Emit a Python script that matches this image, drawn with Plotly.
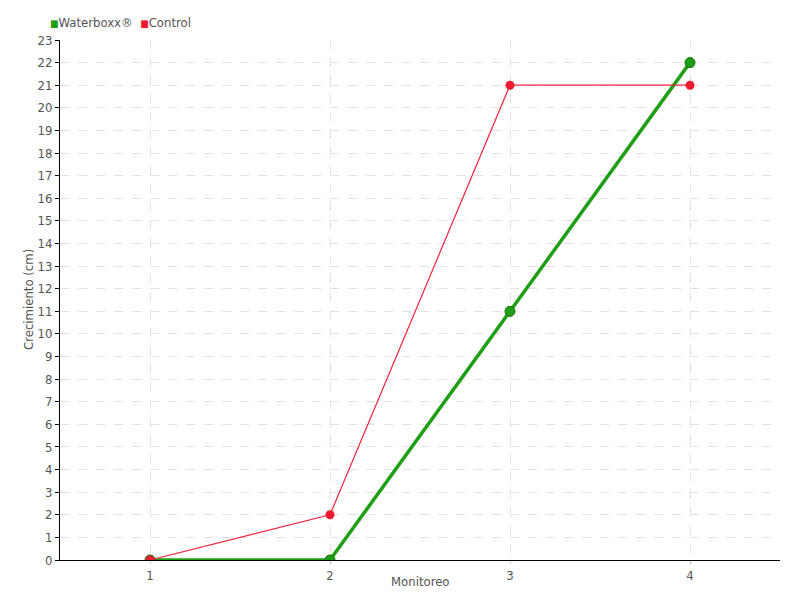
import plotly.graph_objects as go

monitoreo = [1, 2, 3, 4]
waterboxx = [0, 0, 11, 22]
control = [0, 2, 21, 21]
y_ticks = list(range(0, 24))
series_names = ["Waterboxx®", "Control"]
series_colors = ["#1f9e16", "#ee1c2e"]

FONT = "DejaVu Sans Condensed, Liberation Sans Narrow, sans-serif"
fig = go.Figure()
fig.add_trace(go.Scatter(x=monitoreo, y=waterboxx, mode="lines+markers", name=series_names[0],
                         line=dict(color="#1f9e16", width=3.5),
                         marker=dict(size=10, color="#1f9e16", line=dict(color="#167010", width=1)),
                         showlegend=False))
fig.add_trace(go.Scatter(x=monitoreo, y=control, mode="lines+markers", name=series_names[1],
                         line=dict(color="#f0243a", width=1.2),
                         marker=dict(size=9, color="#ee1c2e"),
                         showlegend=False))

legend_html = "  ".join(
    f"<span style='color:{c};font-size:10px'>■</span>{n}" for n, c in zip(series_names, series_colors)
)
fig.add_annotation(text=legend_html, xref="paper", yref="paper", x=0, xshift=-12, y=1.0, xanchor="left",
                   yanchor="bottom", yshift=8, showarrow=False, font=dict(size=13, color="#555555"))
fig.add_annotation(text="Crecimiento (cm)", xref="paper", yref="paper", x=0, xshift=-32, y=0.5,
                   xanchor="center", yanchor="middle", textangle=-90, showarrow=False,
                   font=dict(size=13, color="#555555"))
fig.add_annotation(text="Monitoreo", xref="paper", yref="paper", x=0.5, y=0, yshift=-21,
                   xanchor="center", yanchor="middle", showarrow=False,
                   font=dict(size=13, color="#555555"))

fig.update_layout(
    width=792, height=592,
    margin=dict(l=52, r=20, t=32, b=40),
    plot_bgcolor="white", paper_bgcolor="white",
    font=dict(family=FONT, size=13, color="#555555"),
    showlegend=False,
    xaxis=dict(range=[0.5, 4.5], tickvals=monitoreo, ticktext=[str(v) for v in monitoreo],
               showgrid=True, gridcolor="#e2e2e2", griddash="dash", automargin=False,
               showline=True, linecolor="black", linewidth=1, zeroline=False,
               ticks="outside", ticklen=3, tickcolor="#cccccc", ticklabelstandoff=0,
               tickfont=dict(size=13)),
    yaxis=dict(range=[0, 23], tickvals=y_ticks, automargin=False,
               showgrid=True, gridcolor="#e2e2e2", griddash="dash",
               showline=True, linecolor="black", linewidth=1, zeroline=False,
               ticks="outside", ticklen=4, tickcolor="black", tickfont=dict(size=13)),
)
fig.write_html("out.html")
